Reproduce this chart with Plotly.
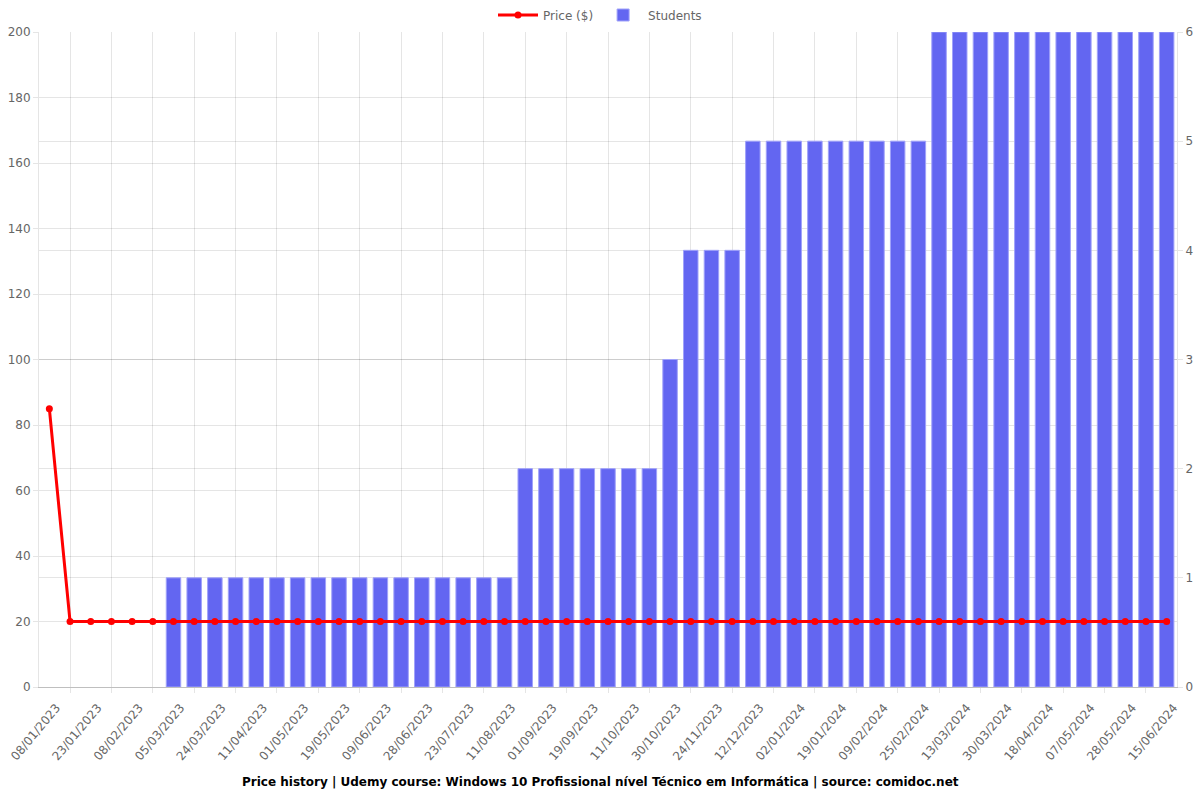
import plotly.graph_objects as go

dates = [
    "08/01/2023", "15/01/2023", "23/01/2023", "31/01/2023", "08/02/2023", "20/02/2023",
    "05/03/2023", "14/03/2023", "24/03/2023", "02/04/2023", "11/04/2023", "21/04/2023",
    "01/05/2023", "10/05/2023", "19/05/2023", "30/05/2023", "09/06/2023", "18/06/2023",
    "28/06/2023", "10/07/2023", "23/07/2023", "01/08/2023", "11/08/2023", "22/08/2023",
    "01/09/2023", "10/09/2023", "19/09/2023", "30/09/2023", "11/10/2023", "20/10/2023",
    "30/10/2023", "12/11/2023", "24/11/2023", "03/12/2023", "12/12/2023", "22/12/2023",
    "02/01/2024", "10/01/2024", "19/01/2024", "29/01/2024", "09/02/2024", "17/02/2024",
    "25/02/2024", "04/03/2024", "13/03/2024", "21/03/2024", "30/03/2024", "08/04/2024",
    "18/04/2024", "27/04/2024", "07/05/2024", "17/05/2024", "28/05/2024", "06/06/2024",
    "15/06/2024",
]

price = [85] + [20] * 54

students = (
    [None] * 6
    + [1] * 17
    + [2] * 7
    + [3] * 1
    + [4] * 3
    + [5] * 9
    + [6] * 12
)

idx = list(range(len(dates)))
label_idx = idx[::2]
label_text = dates[::2]
grid_idx = idx[1::2]

grid = "rgba(0,0,0,0.1)"
font_family = "DejaVu Sans, sans-serif"

W, H = 1200, 800
ML, MR, MT, MB = 39, 23, 32, 113

fig = go.Figure()

fig.add_trace(go.Scatter(
    x=idx, y=price, name="Price ($)", yaxis="y2",
    mode="lines+markers",
    line=dict(color="rgb(255,0,0)", width=3),
    marker=dict(color="rgb(255,0,0)", size=7),
))

fig.add_trace(go.Bar(
    x=idx, y=students, name="Students", yaxis="y",
    marker=dict(color="rgb(99,102,241)", line=dict(color="rgba(160,162,250,1)", width=1)),
    width=0.7,
))

plot_w = W - ML - MR
plot_h = H - MT - MB

fig.update_layout(
    width=W, height=H,
    margin=dict(l=ML, r=MR, t=MT, b=MB, autoexpand=False),
    plot_bgcolor="white", paper_bgcolor="white",
    font=dict(family=font_family, size=12, color="#666"),
    showlegend=True,
    legend=dict(orientation="h", x=(600 - ML) / plot_w, xanchor="center",
                yref="container", y=1 - 15 / H, yanchor="middle",
                font=dict(size=12, color="#666"), itemwidth=40, traceorder="normal"),
    xaxis=dict(
        range=[-0.5, len(dates) - 0.5], automargin=False,
        tickmode="array", tickvals=label_idx, ticktext=label_text,
        tickangle=-50, showgrid=False, ticks="",
        ticklabeloverflow="allow", ticklabelstandoff=8, ticklabelshift=7,
        showline=True, linecolor="rgba(0,0,0,0.25)", mirror=False,
        zeroline=False,
        minor=dict(tickmode="array", tickvals=grid_idx, showgrid=True,
                   gridcolor=grid, gridwidth=1, ticks="outside", ticklen=5,
                   tickcolor=grid),
        tickfont=dict(size=12, color="#666"),
    ),
    yaxis=dict(
        side="right", range=[0, 6], dtick=1, automargin=False,
        showgrid=True, gridcolor=grid, zeroline=False,
        showline=True, linecolor=grid,
        ticks="outside", ticklen=5, tickcolor=grid,
        tickfont=dict(size=12, color="#666"),
    ),
    yaxis2=dict(
        side="left", overlaying="y", range=[0, 200], dtick=20, automargin=False,
        showgrid=True, gridcolor=grid, zeroline=False,
        showline=True, linecolor=grid,
        ticks="outside", ticklen=5, tickcolor=grid,
        tickfont=dict(size=12, color="#666"),
    ),
    annotations=[dict(
        text="<b>Price history | Udemy course: Windows 10 Profissional nível Técnico em Informática | source: comidoc.net</b>",
        x=(600 - ML) / plot_w, xref="paper", xanchor="center",
        y=(H - MB - 782) / plot_h, yref="paper", yanchor="middle",
        showarrow=False, font=dict(size=12, color="#000", family=font_family),
    )],
)

fig.write_html("out.html")
